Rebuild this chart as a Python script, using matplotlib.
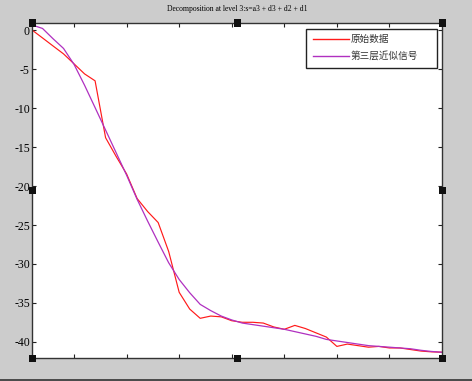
import matplotlib
matplotlib.use("Agg")
import matplotlib.pyplot as plt
from matplotlib.patches import Rectangle
from matplotlib.lines import Line2D

x = list(range(1, 41))
original = [0.06, -0.96, -1.99, -3.01, -4.29, -5.58, -6.47, -13.78, -16.18, -18.44,
            -21.6, -23.27, -24.68, -28.4, -33.65, -35.8, -36.99, -36.7, -36.8, -37.3,
            -37.5, -37.5, -37.6, -38.1, -38.4, -37.9, -38.3, -38.85, -39.4, -40.6,
            -40.3, -40.5, -40.7, -40.6, -40.8, -40.8, -41.0, -41.2, -41.3, -41.35]
approx = [0.71, 0.26, -1.06, -2.31, -4.36, -7.04, -9.91, -12.8, -15.7, -18.6,
          -21.7, -24.5, -27.2, -29.85, -32.0, -33.7, -35.2, -36.0, -36.7, -37.2,
          -37.6, -37.8, -38.0, -38.2, -38.4, -38.7, -39.0, -39.3, -39.7, -39.9,
          -40.1, -40.3, -40.5, -40.6, -40.7, -40.8, -40.9, -41.1, -41.25, -41.35]
labels = ["原始数据", "第三层近似信号"]
colors = ["#ff1a1a", "#b030c0"]
title = "Decomposition at level 3:s=a3 + d3 + d2 + d1"
xticks = [5, 10, 15, 20, 25, 30, 35]
yticks = [0, -5, -10, -15, -20, -25, -30, -35, -40]

W, H = 472, 381
fig = plt.figure(figsize=(W / 100, H / 100), dpi=100, facecolor="#cccccc")
L, R, T, B = 32, 442, 23, 358
ax = fig.add_axes([L / W, 1 - B / H, (R - L) / W, (B - T) / H])
ax.set_facecolor("white")

ax.plot(x, original, color=colors[0], lw=0.85)
ax.plot(x, approx, color=colors[1], lw=0.9)

ax.set_xlim(1, 40)
ax.set_ylim(-42.09, 0.96)
ax.set_xticks(xticks)
ax.set_xticklabels([])
ax.set_yticks(yticks)
ax.set_yticklabels([str(v) for v in yticks], family="Liberation Serif", fontsize=8.5)
ax.tick_params(direction="in", length=3, width=0.8, color="#222222",
               top=True, right=True, pad=1.5)
for s in ax.spines.values():
    s.set_linewidth(1.0)
    s.set_color("#333333")

fig.text(237 / W, 1 - 9 / H, title, ha="center", va="center",
         family="Liberation Serif", fontsize=5.5)

# legend drawn in pixel layout like the MATLAB legend box
def fx(px):
    return px / W

def fy(py):
    return 1 - py / H

fig.patches.append(Rectangle((fx(306), fy(68)), (437 - 306) / W, (68 - 29) / H,
                             transform=fig.transFigure, facecolor="white",
                             edgecolor="#222222", lw=1.0, zorder=5))
for i, (lab, c) in enumerate(zip(labels, colors)):
    yy = 39 + 17 * i
    fig.lines.append(Line2D([fx(313), fx(349)], [fy(yy), fy(yy)],
                            transform=fig.transFigure, color=c, lw=1.0, zorder=6))
    fig.text(fx(351), fy(yy), lab, ha="left", va="center", color="#333333",
             family=["Noto Sans CJK SC", "DejaVu Sans"], fontsize=6.9, zorder=6)

# selection handles
for (hx, hy) in [(L, T), ((L + R) / 2, T), (R, T), (L, (T + B) / 2), (R, (T + B) / 2),
                 (L, B), ((L + R) / 2, B), (R, B)]:
    s = 7
    fig.patches.append(Rectangle(((hx - s / 2) / W, 1 - (hy + s / 2) / H), s / W, s / H,
                                 transform=fig.transFigure, facecolor="#111111",
                                 edgecolor="none", zorder=10))

fig.lines.append(Line2D([0, 1], [fy(379.5)] * 2, transform=fig.transFigure,
                        color="#333333", lw=1.2))

fig.savefig("out.png", dpi=100, facecolor=fig.get_facecolor())
